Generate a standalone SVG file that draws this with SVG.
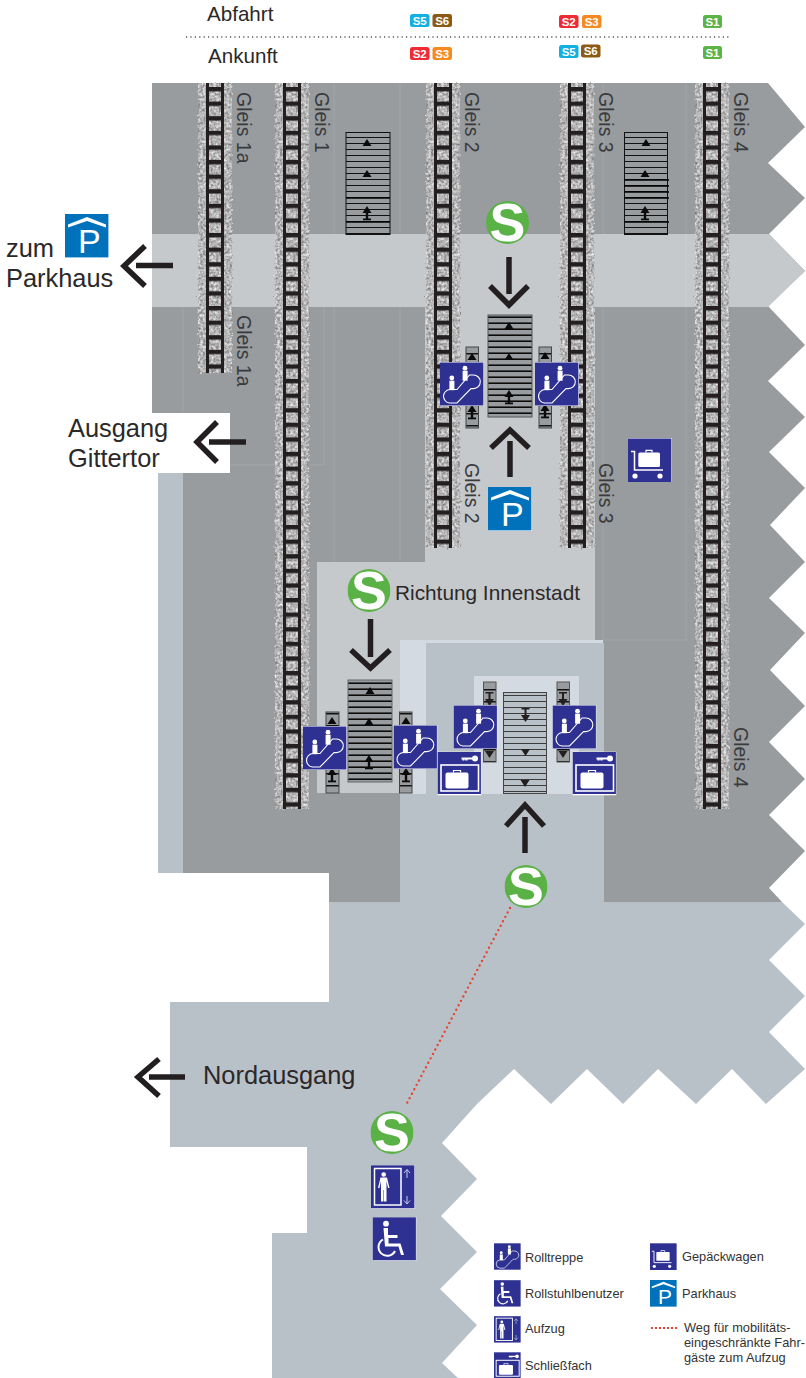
<svg xmlns="http://www.w3.org/2000/svg" xmlns:xlink="http://www.w3.org/1999/xlink" width="806" height="1378" viewBox="0 0 806 1378">
<style>
text{font-family:"Liberation Sans",Arial,sans-serif;fill:#2b2829}
.lab{font-size:25.4px}
.gl{font-size:19.5px;fill:#3a3a3c}
.leg{font-size:12.8px;fill:#333}
.bd{font-size:11.5px;font-weight:bold;fill:#fff;text-anchor:middle}
.arr{fill:none;stroke:#231f20;stroke-width:5.5}
.ln{fill:none;stroke:#fff;stroke-width:1.1}
.dark{fill:#989c9f}.light{fill:#c6c9cc}.blue{fill:#b9c1c8}.pale{fill:#d3dae1}
.ico{fill:#2e3192}
</style>
<defs>
<filter id="gravel" x="-15%" y="-1%" width="130%" height="102%" color-interpolation-filters="sRGB">
<feTurbulence type="fractalNoise" baseFrequency=".38" numOctaves="2" seed="4" result="n"/>
<feDisplacementMap in="SourceGraphic" in2="n" scale="5" result="d"/>
<feColorMatrix in="n" type="matrix" values=".7 0 0 0 .36 .7 0 0 0 .36 .7 0 0 0 .36 0 0 0 0 1" result="g"/>
<feComposite in="g" in2="d" operator="in"/>
</filter>
<pattern id="ties" width="18" height="14.6" patternUnits="userSpaceOnUse" patternTransform="translate(0,4)">
<rect x="0" width="3" height="14.6" fill="#231f20"/><rect x="15" width="3" height="14.6" fill="#231f20"/><rect width="18" height="4.4" fill="#231f20"/>
</pattern>
<pattern id="steps" width="10" height="6" patternUnits="userSpaceOnUse"><rect y="5" width="10" height="1" fill="#111"/></pattern>
<pattern id="stepsB" width="10" height="6" patternUnits="userSpaceOnUse"><rect y="4.4" width="10" height="1.6" fill="#0a0a0a"/></pattern>
<pattern id="stepsG" width="10" height="6" patternUnits="userSpaceOnUse"><rect y="5" width="10" height="1" fill="#3c3c3c"/></pattern>
<pattern id="stepsS" width="13" height="12" patternUnits="userSpaceOnUse"><rect y="5" width="13" height="1.5" fill="#111"/></pattern>
<g id="tu"><path d="M-4.5,3 L0,-4 L4.5,3Z" fill="#0a0a0a"/></g>
<g id="tub"><path d="M-4.5,0 L0,-7 L4.5,0Z" fill="#0a0a0a"/><rect x="-1.2" y="0" width="2.4" height="6" fill="#0a0a0a"/><rect x="-4" y="5.5" width="8" height="1.8" fill="#0a0a0a"/></g>
<g id="td"><path d="M-4.5,-3 L0,4 L4.5,-3Z" fill="#231f20"/></g>
<g id="tdb"><path d="M-4.5,0 L0,7 L4.5,0Z" fill="#231f20"/><rect x="-1" y="-6" width="2" height="6" fill="#231f20"/><rect x="-4" y="-7" width="8" height="1.5" fill="#231f20"/></g>
<symbol id="sb" viewBox="0 0 44 44"><clipPath id="sc"><circle cx="22" cy="22" r="21"/></clipPath><circle cx="22" cy="22" r="22" fill="#5ab146"/><g clip-path="url(#sc)"><text x="22" y="40.500" text-anchor="middle" font-size="55" font-weight="bold" style="fill:#fff;font-family:'Liberation Sans',Arial,sans-serif">S</text></g></symbol>
<symbol id="esc" viewBox="0 0 44 44"><rect width="44" height="44" fill="#fff"/><rect class="ico" y=".5" width="43.4" height="43"/>
<circle cx="11.8" cy="16" r="2.4" fill="#fff"/><rect x="9.4" y="18.7" width="5" height="9.5" fill="#fff"/><circle cx="25" cy="6.2" r="2.4" fill="#fff"/><rect x="22.6" y="8.7" width="5" height="10" fill="#fff"/>
<path class="ln" d="M9.5,27.500 H17 L29.500,13 H33.500 A6.8,6.8 0 0 1 33.500,26.600 H31 L17,41 H9.500 A6.8,6.8 0 0 1 9.500,27.500Z"/></symbol>
<symbol id="lock" viewBox="0 0 44 44"><rect width="44" height="44" fill="#fff"/><rect class="ico" y=".5" width="43.4" height="42"/>
<path d="M24,7 H35 M26,7 V9 M29,7 V9" stroke="#fff" stroke-width="2" fill="none"/><circle cx="37.5" cy="7" r="3" fill="#fff"/>
<rect x="3.5" y="13.5" width="37.5" height="26" fill="none" stroke="#fff" stroke-width="1.6"/>
<rect x="8" y="21" width="23" height="16" rx="2" fill="#fff"/><path d="M16,21 V19 H23 V21" fill="none" stroke="#fff" stroke-width="1.2"/></symbol>
<symbol id="cart" viewBox="0 0 44 44"><rect width="44" height="44" fill="#fff"/><rect class="ico" y=".5" width="43.4" height="43.5"/>
<path d="M3,13.5 H6.5 V32 H35" fill="none" stroke="#fff" stroke-width="1.5"/><circle cx="7" cy="38" r="2.6" fill="#fff"/><circle cx="32" cy="38" r="2.6" fill="#fff"/>
<rect x="10.3" y="14.5" width="21.7" height="14.5" rx="1.5" fill="#fff"/><path d="M18,14.5 V12.3 H24 V14.5" fill="none" stroke="#fff" stroke-width="1.2"/></symbol>
<symbol id="park" viewBox="0 0 44 44"><rect width="44" height="44" fill="#fff"/><rect width="43.4" height="43.4" fill="#0072bc"/>
<path d="M3,10.500 L22,3 L41,10.500 V13.500 L22,7 L3,13.500Z" fill="#fff"/><text x="13" y="39" font-size="34" style="fill:#fff;font-family:'Liberation Sans',Arial,sans-serif">P</text></symbol>
<symbol id="lift" viewBox="0 0 44 44"><rect width="44" height="44" fill="#fff"/><rect class="ico" y=".3" width="43.4" height="43"/>
<rect x="3.5" y="3.5" width="26.5" height="36.5" fill="none" stroke="#fff" stroke-width="1.5"/>
<circle cx="12.7" cy="9.5" r="2.3" fill="#fff"/><path d="M9.5,12.5 H16 L18.5,23 H17 L15.5,16 V36.5 H13 V25 H12.5 V36.5 H10 V16 L8.5,23 H7Z" fill="#fff"/>
<path d="M36,13 V4.5 M33,8 L36,4.5 L39,8 M36,31 V39 M33,35.5 L36,39 L39,35.5" fill="none" stroke="#c9cbe6" stroke-width="1"/></symbol>
<symbol id="wheel" viewBox="0 0 44 44"><rect width="44" height="44" fill="#fff"/><rect class="ico" y=".3" width="43.4" height="43"/>
<circle cx="13.5" cy="6.7" r="2.9" fill="#fff"/><path d="M11,11 H15.5 V18 H25 V21 H16 V26.5 H28 L31.5,38 H28.5 L26,29.5 H12.5Z" fill="#fff"/>
<path d="M10.5,22.5 A8.7,8.7 0 1 0 22.5,34" fill="none" stroke="#fff" stroke-width="2"/></symbol>
</defs>

<g id="floor">
<path class="dark" d="M152,83 H768 L805,127 L768,163 L805,198 L769,234 L805,271 L768,306 L805,345 L768,381 L805,417 L769,452 L805,488 L770,525 L805,562 L769,598 L805,633 L770,670 L805,706 L769,742 L805,779 L769,815 L805,851 L769,888 L782,902 H329 V873 H183 V473 H230 V413 H152Z"/>
<path class="blue" d="M158,473 H183 V873 H158Z"/>
<path class="light" d="M152,234 H769 L805,271 L768,307 H152Z"/>
<path class="light" d="M425,307 H595 V642 H400 V793 H317 V562 H425Z"/>
<path class="blue" d="M426,643 H604 V902 H782 L805,924 L769,960 L805,996 L769,1032 L805,1069 L766,1104 L732,1069 L696,1104 L658,1069 L623,1104 L587,1069 L551,1104 L514,1069 L477,1104 L442,1143 L477,1179 L441,1216 L477,1252 L440,1289 L477,1325 L442,1363 L458,1378 H272 V1233 H307 V1147 H170 V1002 H329 V902 H400 V794 H426Z"/>
<path class="pale" d="M400,640 H603 V643 H426 V794 H400Z"/>
<rect class="pale" x="474" y="676" width="105" height="118"/>
<path d="M334,83 V234 M334,307 V562 M400,83 V234 M400,307 V562 M603,83 V234 M603,307 V640 H686 V83 M686,234 V307 M183,307 V413 M230,465 H324 V307" fill="none" stroke="#fff" stroke-opacity=".1"/>
</g>

<g id="tracks">
<g transform="translate(206,83)"><rect x="-8" width="34" height="290" fill="#bbb" filter="url(#gravel)"/><rect width="18" height="290" fill="url(#ties)"/></g>
<g transform="translate(283,83)"><rect x="-8" width="34" height="726" fill="#bbb" filter="url(#gravel)"/><rect width="18" height="726" fill="url(#ties)"/></g>
<g transform="translate(434,83)"><rect x="-8" width="34" height="465" fill="#bbb" filter="url(#gravel)"/><rect width="18" height="465" fill="url(#ties)"/></g>
<g transform="translate(568,83)"><rect x="-8" width="34" height="465" fill="#bbb" filter="url(#gravel)"/><rect width="18" height="465" fill="url(#ties)"/></g>
<g transform="translate(703,83)"><rect x="-8" width="34" height="726" fill="#bbb" filter="url(#gravel)"/><rect width="18" height="726" fill="url(#ties)"/></g>
</g>

<g id="track-labels">
<text class="gl" transform="translate(237,92) rotate(90)">Gleis 1a</text>
<text class="gl" transform="translate(237,315) rotate(90)">Gleis 1a</text>
<text class="gl" transform="translate(315,92) rotate(90)">Gleis 1</text>
<text class="gl" transform="translate(465,92) rotate(90)">Gleis 2</text>
<text class="gl" transform="translate(465,463) rotate(90)">Gleis 2</text>
<text class="gl" transform="translate(599,92) rotate(90)">Gleis 3</text>
<text class="gl" transform="translate(599,463) rotate(90)">Gleis 3</text>
<text class="gl" transform="translate(734,92) rotate(90)">Gleis 4</text>
<text class="gl" transform="translate(734,727) rotate(90)">Gleis 4</text>
</g>

<g id="stairs">
<g id="stair-a"><rect x="346" y="132.500" width="44" height="102" fill="url(#steps)" stroke="#111"/><path d="M346,198 H390 M346,222 H390" stroke="#000" stroke-width="1.4"/><use href="#tu" x="367" y="143"/><use href="#tu" x="367" y="174"/><use href="#tub" x="367" y="213"/></g>
<g id="stair-b"><rect x="624.500" y="132.500" width="43" height="102" fill="url(#steps)" stroke="#111"/><path d="M624,180 H669 M624,186 H669 M624,192 H669 M624,198 H669 M624,222 H669" stroke="#000" stroke-width="1.4"/><use href="#tu" x="646" y="143"/><use href="#tu" x="645" y="174"/><use href="#tub" x="645" y="213"/></g>
<g id="stair-c"><rect x="488" y="315" width="44" height="102" class="dark"/><rect x="488" y="315" width="44" height="102" fill="url(#stepsB)" stroke="#555"/><use href="#tu" x="509" y="326"/><use href="#tu" x="509" y="357"/><use href="#tub" x="509" y="397"/></g>
<g id="stair-d"><rect x="348" y="680" width="44" height="102" class="dark"/><rect x="348" y="680" width="44" height="102" fill="url(#stepsB)" stroke="#666"/><use href="#tu" x="370" y="691"/><use href="#tu" x="369" y="722"/><use href="#tub" x="369" y="762"/></g>
<g id="stair-e"><rect x="503.500" y="692.500" width="43" height="101" class="blue"/><rect x="503.500" y="692.500" width="43" height="101" fill="url(#stepsG)" stroke="#444"/><use href="#tdb" x="525.500" y="715"/><use href="#td" x="525.500" y="752"/><use href="#td" x="525" y="783"/></g>
<g id="esc-strips">
<g><rect x="466" y="347" width="12.500" height="81" class="dark"/><rect x="466" y="347" width="12.500" height="81" fill="url(#stepsS)" stroke="#444"/><use href="#tu" x="472" y="357"/><use href="#tub" x="472" y="412"/></g>
<g><rect x="539" y="347" width="12.500" height="81" class="dark"/><rect x="539" y="347" width="12.500" height="81" fill="url(#stepsS)" stroke="#444"/><use href="#tu" x="545" y="356"/><use href="#tub" x="545" y="411"/></g>
<g><rect x="326" y="712" width="13" height="81" class="dark"/><rect x="326" y="712" width="13" height="81" fill="url(#stepsS)" stroke="#444"/><use href="#tu" x="332" y="721"/><use href="#tub" x="332" y="775"/></g>
<g><rect x="399.500" y="712" width="12.500" height="81" class="dark"/><rect x="399.500" y="712" width="12.500" height="81" fill="url(#stepsS)" stroke="#444"/><use href="#tu" x="406" y="721"/><use href="#tub" x="406" y="775"/></g>
<g><rect x="483.500" y="682" width="12.500" height="80" class="dark"/><rect x="483.500" y="682" width="12.500" height="80" fill="url(#stepsS)" stroke="#555"/><use href="#tdb" x="489.500" y="699"/><use href="#td" x="489.500" y="754"/></g>
<g><rect x="557" y="682" width="12.500" height="80" class="dark"/><rect x="557" y="682" width="12.500" height="80" fill="url(#stepsS)" stroke="#555"/><use href="#tdb" x="563" y="699"/><use href="#td" x="563" y="754"/></g>
</g>
</g>

<g id="connectors">
<path class="arr" d="M509,257 V294 M490,286 L509,305 L528,286"/>
<path class="arr" d="M510,441 V477 M491,448 L510,430 L529,448"/>
<path class="arr" d="M370.500,619 V657 M351,650 L370.500,668 L390,650"/>
<path class="arr" d="M525,817 V853 M506,826 L525,805 L544,826"/>
<path class="arr" d="M136,265.500 H173 M145,246 L124,266 L145,286"/>
<path class="arr" d="M209,442 H246 M217,422 L197,442 L217,462"/>
<path class="arr" d="M149,1077 H185 M159,1059 L138,1077 L159,1096"/>
<path d="M510,908 L406,1105" fill="none" stroke="#e8432f" stroke-width="2.4" stroke-linecap="round" stroke-dasharray="0 5"/>
</g>

<g id="sbahn-1"><use href="#sb" x="486" y="201" width="43" height="43"/></g>
<g id="sbahn-2"><use href="#sb" x="347.500" y="569" width="43" height="43"/></g>
<g id="sbahn-3"><use href="#sb" x="504.500" y="865" width="43" height="43"/></g>
<g id="sbahn-4"><use href="#sb" x="370.500" y="1111" width="43" height="43"/></g>

<g id="icons">
<use id="esc-1" href="#esc" x="440" y="362" width="44" height="44"/>
<use id="esc-2" href="#esc" x="535" y="362" width="44" height="44"/>
<use id="esc-3" href="#esc" x="303" y="726" width="44" height="44"/>
<use id="esc-4" href="#esc" x="393.500" y="725" width="44" height="44"/>
<use id="esc-5" href="#esc" x="453.500" y="705" width="44" height="44"/>
<use id="esc-6" href="#esc" x="552.500" y="705" width="44" height="44"/>
<use id="lock-1" href="#lock" x="437.500" y="751.500" width="44" height="44"/>
<use id="lock-2" href="#lock" x="572.500" y="751.500" width="44" height="44"/>
<use id="cart-1" href="#cart" x="628" y="438" width="44" height="44"/>
<use id="park-1" href="#park" x="488" y="487" width="44" height="44"/>
<use id="park-2" href="#park" x="65" y="214" width="44" height="44"/>
<use id="lift-1" href="#lift" x="371" y="1165" width="44" height="44"/>
<use id="wheel-1" href="#wheel" x="372.500" y="1217" width="44" height="44"/>
</g>

<g id="labels">
<text class="lab" x="6" y="257">zum</text>
<text class="lab" x="6" y="287">Parkhaus</text>
<text class="lab" x="68" y="437">Ausgang</text>
<text class="lab" x="68" y="467">Gittertor</text>
<text x="395" y="600" font-size="20.8">Richtung Innenstadt</text>
<text class="lab" x="203" y="1084">Nordausgang</text>
</g>

<g id="timetable">
<text x="207" y="21" font-size="20.6">Abfahrt</text>
<text x="208" y="63" font-size="20.6">Ankunft</text>
<path d="M186,37 H729" fill="none" stroke="#555" stroke-width="1.300" stroke-dasharray="1.200 3.200"/>
<rect x="410" y="14" width="19.500" height="13" rx="2.500" fill="#12b0e0"/><text class="bd" x="419.700" y="24.800">S5</text>
<rect x="432.500" y="14" width="19.500" height="13" rx="2.500" fill="#8b5a15"/><text class="bd" x="442.200" y="24.800">S6</text>
<rect x="559" y="15" width="19.500" height="13" rx="2.500" fill="#ee2a33"/><text class="bd" x="568.700" y="25.800">S2</text>
<rect x="582" y="15" width="19.500" height="13" rx="2.500" fill="#f58a22"/><text class="bd" x="591.700" y="25.800">S3</text>
<rect x="703" y="15" width="19" height="13" rx="2.500" fill="#5cb346"/><text class="bd" x="712.500" y="25.800">S1</text>
<rect x="410" y="47" width="19.500" height="13" rx="2.500" fill="#ee2a33"/><text class="bd" x="419.700" y="57.800">S2</text>
<rect x="432.500" y="47" width="19.500" height="13" rx="2.500" fill="#f58a22"/><text class="bd" x="442.200" y="57.800">S3</text>
<rect x="559" y="45" width="19.500" height="13" rx="2.500" fill="#12b0e0"/><text class="bd" x="568.700" y="55.800">S5</text>
<rect x="581" y="44.500" width="19.500" height="13" rx="2.500" fill="#8b5a15"/><text class="bd" x="590.700" y="55.300">S6</text>
<rect x="703" y="46" width="19" height="13" rx="2.500" fill="#5cb346"/><text class="bd" x="712.500" y="56.800">S1</text>
</g>

<g id="legend">
<use href="#esc" x="494" y="1243" width="27" height="27"/><text class="leg" x="525" y="1262">Rolltreppe</text>
<use href="#wheel" x="494" y="1280" width="27" height="27"/><text class="leg" x="525" y="1298">Rollstuhlbenutzer</text>
<use href="#lift" x="494" y="1316" width="27" height="27"/><text class="leg" x="525" y="1333">Aufzug</text>
<use href="#lock" x="494" y="1352" width="27" height="27"/><text class="leg" x="525" y="1370">Schließfach</text>
<use href="#cart" x="650" y="1243" width="27" height="27"/><text class="leg" x="682" y="1261">Gepäckwagen</text>
<use href="#park" x="650" y="1280" width="27" height="27"/><text class="leg" x="682" y="1298">Parkhaus</text>
<path d="M651,1328 H678" fill="none" stroke="#e8432f" stroke-width="2" stroke-dasharray="2 2"/>
<text class="leg" x="684" y="1332">Weg für mobilitäts-</text>
<text class="leg" x="684" y="1347">eingeschränkte Fahr-</text>
<text class="leg" x="684" y="1362">gäste zum Aufzug</text>
</g>
</svg>
